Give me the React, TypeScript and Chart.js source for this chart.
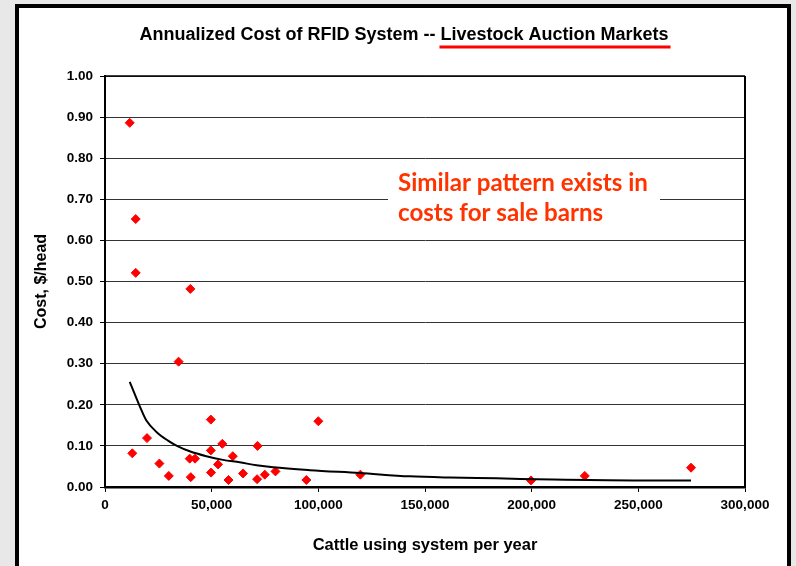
import { useEffect, useRef } from "react";
import { Chart, registerables } from "chart.js";

Chart.register(...registerables);

// ---- data ----
const cattlePerYear = [
  11600, 14400, 14400, 40000, 34500, 12800, 19700, 25500, 29900, 39700,
  42200, 40200, 49600, 49600, 49700, 53000, 55000, 57900, 59900, 64700,
  71500, 71300, 74900, 79900, 94400, 100000, 119700, 199700, 224900, 274700,
];
const costPerHead = [
  0.886, 0.652, 0.521, 0.482, 0.305, 0.082, 0.119, 0.057, 0.027, 0.069,
  0.069, 0.024, 0.164, 0.089, 0.035, 0.055, 0.105, 0.017, 0.075, 0.033,
  0.1, 0.019, 0.03, 0.038, 0.017, 0.16, 0.03, 0.016, 0.027, 0.047,
];
const trendCattle = [
  11600, 17500, 19400, 24100, 29500, 34200, 39700, 47500, 55300, 63100,
  71000, 78800, 96000, 119400, 142800, 161600, 183500, 210000, 247500, 274700,
];
const trendCost = [
  0.256, 0.182, 0.162, 0.134, 0.113, 0.099, 0.087, 0.075, 0.066, 0.06,
  0.053, 0.048, 0.041, 0.034, 0.026, 0.023, 0.021, 0.018, 0.016, 0.016,
];
const xMax = 300000;
const xStep = 50000;
const yMax = 1;
const yStep = 0.1;

const titleLead = "Annualized Cost of RFID System -- ";
const titleUnderlined = "Livestock Auction Markets";
const xAxisTitle = "Cattle using system per year";
const yAxisTitle = "Cost, $/head";
const noteLines = ["Similar pattern exists in", "costs for sale barns"];

const ARIAL = "'Liberation Sans', Arial, Helvetica, sans-serif";
const CANVAS_W = 768;
const CANVAS_H = 558;

const decorPlugin = {
  id: "decor",
  afterDraw(chart: any) {
    const { ctx, chartArea } = chart;
    const { left, right, top, bottom } = chartArea;
    ctx.save();

    // plot frame top + right
    ctx.strokeStyle = "#000";
    ctx.lineWidth = 1.5;
    ctx.beginPath();
    ctx.moveTo(left, top);
    ctx.lineTo(right, top);
    ctx.stroke();
    ctx.lineWidth = 2;
    ctx.beginPath();
    ctx.moveTo(right, top);
    ctx.lineTo(right, bottom + 1);
    ctx.stroke();

    // note box
    ctx.fillStyle = "#fff";
    ctx.fillRect(369, 157, 272, 68);
    ctx.fillStyle = "#ff3300";
    ctx.font = `bold 24px Lato, 'Open Sans', sans-serif`;
    const w1 = ctx.measureText(noteLines[0]).width;
    const fs = (24 * 250) / w1;
    ctx.font = `bold ${fs.toFixed(2)}px Lato, 'Open Sans', sans-serif`;
    ctx.textAlign = "left";
    ctx.textBaseline = "alphabetic";
    ctx.fillText(noteLines[0], 379, 183);
    ctx.fillText(noteLines[1], 379, 212.5);

    // title
    ctx.fillStyle = "#000";
    ctx.font = `bold 18px ${ARIAL}`;
    const full = titleLead + titleUnderlined;
    const tw = ctx.measureText(full).width;
    const leadW = ctx.measureText(titleLead).width;
    const tx = 385 - tw / 2;
    ctx.textAlign = "left";
    ctx.fillText(full, tx, 31.5);
    ctx.strokeStyle = "#ff0000";
    ctx.lineWidth = 3;
    ctx.beginPath();
    ctx.moveTo(tx + leadW - 1, 39);
    ctx.lineTo(tx + tw + 2, 39);
    ctx.stroke();

    // axis titles
    ctx.fillStyle = "#000";
    ctx.font = `bold 16.5px ${ARIAL}`;
    ctx.textAlign = "center";
    ctx.textBaseline = "middle";
    ctx.fillText(xAxisTitle, (left + right) / 2, 537);
    ctx.save();
    ctx.translate(22.7, (top + bottom) / 2);
    ctx.rotate(-Math.PI / 2);
    ctx.font = `bold 16px ${ARIAL}`;
    ctx.fillText(yAxisTitle, 0, 0);
    ctx.restore();

    ctx.restore();
  },
};

export default function App() {
  const ref = useRef<HTMLCanvasElement | null>(null);

  useEffect(() => {
    if (!ref.current) return;
    const points = cattlePerYear.map((x, i) => ({ x, y: costPerHead[i] }));
    const trend = trendCattle.map((x, i) => ({ x, y: trendCost[i] }));
    const tickFont = { family: ARIAL, size: 13.5, weight: "bold" as const };
    const chart = new Chart(ref.current, {
      type: "scatter",
      data: {
        datasets: [
          {
            label: "Trend",
            data: trend,
            showLine: true,
            borderColor: "#000",
            borderWidth: 2,
            pointRadius: 0,
            tension: 0.3,
            cubicInterpolationMode: "monotone",
            order: 0,
          },
          {
            label: "Markets",
            data: points,
            pointStyle: "rectRot",
            pointRadius: 4.5,
            pointBackgroundColor: "#ff0000",
            pointBorderColor: "#ff0000",
            pointBorderWidth: 1,
            order: 1,
          },
        ],
      },
      options: {
        animation: false,
        responsive: false,
        devicePixelRatio: 1,
        layout: { padding: { left: 0, right: 42, top: 68, bottom: 0 } },
        plugins: {
          legend: { display: false },
          tooltip: { enabled: false },
          title: { display: false },
        },
        scales: {
          x: {
            type: "linear",
            min: 0,
            max: xMax,
            afterFit: (s: any) => {
              s.height = 79;
            },
            ticks: {
              stepSize: xStep,
              color: "#000",
              font: tickFont,
              padding: 5,
              maxRotation: 0,
              callback: (v: any) => Number(v).toLocaleString("en-US"),
            },
            grid: {
              drawOnChartArea: false,
              drawTicks: true,
              tickLength: 5,
              color: "#000",
            },
            border: { color: "#000", width: 2.5 },
          },
          y: {
            min: 0,
            max: yMax,
            afterFit: (s: any) => {
              s.width = 86;
            },
            ticks: {
              stepSize: yStep,
              color: "#000",
              font: tickFont,
              padding: 7,
              callback: (v: any) => Number(v).toFixed(2),
            },
            grid: {
              color: "#333",
              lineWidth: 1,
              tickLength: 5,
              tickColor: "#000",
            },
            border: { color: "#000", width: 2 },
          },
        },
      },
      plugins: [decorPlugin],
    });
    return () => chart.destroy();
  }, []);

  return (
    <div
      style={{
        position: "absolute",
        left: 0,
        top: 0,
        width: 796,
        height: 566,
        background: "#e8e8e8",
        overflow: "hidden",
      }}
    >
      <div
        style={{
          position: "absolute",
          left: 15,
          top: 4,
          width: CANVAS_W,
          height: 580,
          border: "4px solid #000",
          background: "#fff",
        }}
      >
        <canvas
          ref={ref}
          width={CANVAS_W}
          height={CANVAS_H}
          style={{ display: "block", width: CANVAS_W, height: CANVAS_H }}
        />
      </div>
    </div>
  );
}
